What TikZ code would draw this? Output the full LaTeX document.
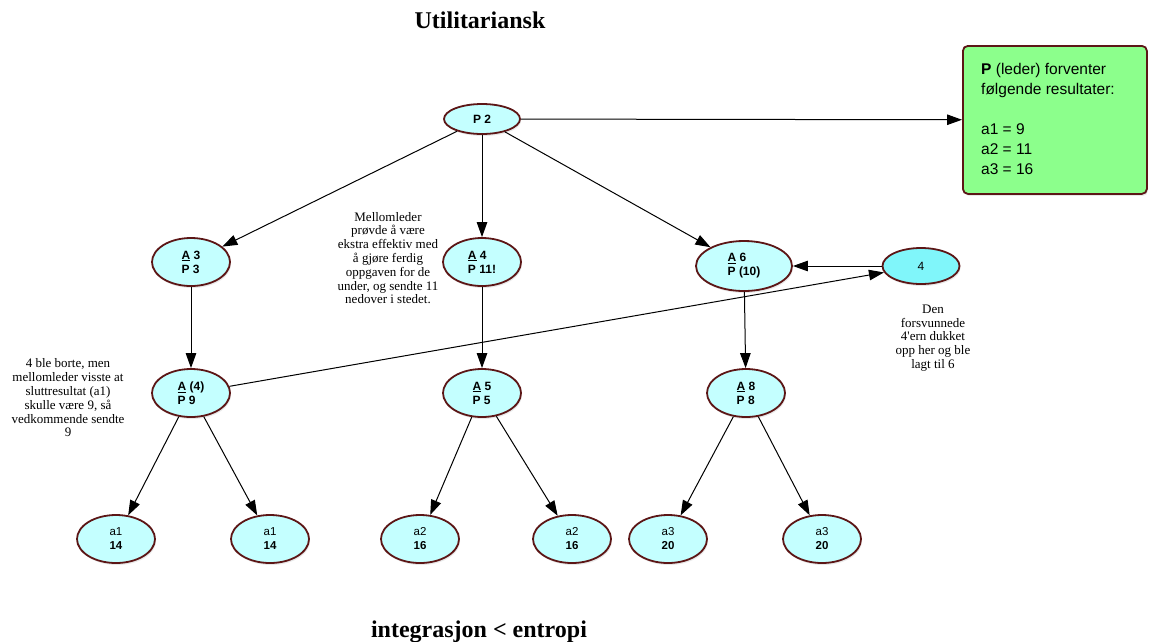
\documentclass[tikz,border=0pt]{standalone}
\usepackage{fontspec}
\setmainfont{Liberation Serif}[Ligatures=TeXOff]
\newfontfamily\helv{Liberation Sans}
\usetikzlibrary{shapes.geometric,arrows.meta,shadows}
\definecolor{rim}{RGB}{92,22,22}
\definecolor{cyanfill}{RGB}{196,255,255}
\definecolor{cyandeep}{RGB}{128,246,250}
\definecolor{boxgreen}{RGB}{140,255,140}
\tikzset{
  oval/.style={ellipse, draw=rim, line width=1.8pt, fill=cyanfill,
    minimum width=78pt, minimum height=48pt, inner sep=0pt, align=left,
    drop shadow={opacity=0.18, shadow xshift=1pt, shadow yshift=-2pt},
    font=\helv\fontsize{12}{14}\selectfont\bfseries},
  leaf/.style={oval, font=\helv\fontsize{11.5}{14}\selectfont},
  arr/.style={-{Triangle[length=15pt,width=10.5pt]}, line width=1pt},
  note/.style={align=center, font=\fontsize{13}{13.8}\selectfont, inner sep=0pt},
  heading/.style={font=\fontsize{24}{28}\selectfont\bfseries, inner sep=0pt, anchor=base},
}
\begin{document}
\begin{tikzpicture}[x=1pt,y=-1pt]
\useasboundingbox (0,0) rectangle (1150,641);

% headings
\node[heading] (top) at (480,28) {Utilitariansk};
\node[heading] (bottom) at (479,637) {integrasjon < entropi};

% result box
\node[draw=rim, line width=1.8pt, fill=boxgreen, rounded corners=5pt,
  minimum width=184pt, minimum height=148pt, anchor=north west,
  drop shadow={opacity=0.18, shadow xshift=1pt, shadow yshift=-2pt}]
  (res) at (962,45) {};
\node[anchor=north west, align=left, inner sep=0pt,
  font=\helv\fontsize{15.5}{20}\selectfont] (restext) at (981,63)
  {\textbf{P} (leder) forventer\\følgende resultater:\\[20pt]a1 = 9\\a2 = 11\\a3 = 16};

% tree
\node[oval, minimum height=30pt, minimum width=76pt] (p2) at (482,119) {P 2};

\node[oval] (a3) at (191,262) {\underline{A} 3\\P 3};
\node[oval] (a4) at (482,262) {\underline{A} 4\\P 11!};
\node[oval, minimum width=96pt, minimum height=50pt] (a6) at (744,266) {\underline{A} 6\\P (10)};
\node[oval, fill=cyandeep, minimum width=77pt, minimum height=36pt] (four) at (921,266) {\helv\mdseries 4};

\node[oval] (aa4) at (191,393) {\underline{A} (4)\\P 9};
\node[oval] (a5) at (482,393) {\underline{A} 5\\P 5};
\node[oval] (a8) at (746,393) {\underline{A} 8\\P 8};

\node[leaf] (l1) at (116,539) {a1\\\textbf{14}};
\node[leaf] (l2) at (270,539) {a1\\\textbf{14}};
\node[leaf] (l3) at (420,539) {a2\\\textbf{16}};
\node[leaf] (l4) at (572,539) {a2\\\textbf{16}};
\node[leaf] (l5) at (668,539) {a3\\\textbf{20}};
\node[leaf] (l6) at (822,539) {a3\\\textbf{20}};

% notes
\node[note] (n1) at (388,258) {Mellomleder\\prøvde å være\\ekstra effektiv med\\å gjøre ferdig\\oppgaven for de\\under, og sendte 11\\nedover i stedet.};
\node[note] (n2) at (68,398) {4 ble borte, men\\mellomleder visste at\\sluttresultat (a1)\\skulle være 9, så\\vedkommende sendte\\9};
\node[note] (n3) at (933,338) {Den\\forsvunnede\\4'ern dukket\\opp her og ble\\lagt til 6};

% connectors
\draw[arr] (p2) -- (res);
\draw[arr] (p2) -- (a3);
\draw[arr] (p2) -- (a4);
\draw[arr] (p2) -- (a6);
\draw[arr] (a3) -- (aa4);
\draw[arr] (a4) -- (a5);
\draw[arr] (a6) -- (a8);
\draw[arr] (aa4) -- (four);
\draw[arr] (four) -- (a6);
\draw[arr] (aa4) -- (l1);
\draw[arr] (aa4) -- (l2);
\draw[arr] (a5) -- (l3);
\draw[arr] (a5) -- (l4);
\draw[arr] (a8) -- (l5);
\draw[arr] (a8) -- (l6);
\end{tikzpicture}
\end{document}
